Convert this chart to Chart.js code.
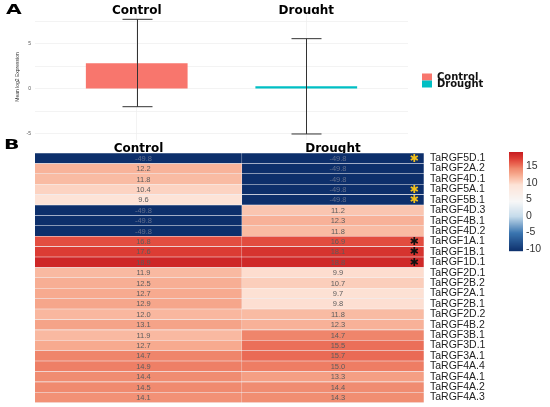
<!DOCTYPE html>
<html>
<head>
<meta charset="utf-8">
<script src="https://cdn.jsdelivr.net/npm/chart.js@4.4.0/dist/chart.umd.min.js"></script>
<style>
  body { margin: 0; background: #fff; }
  #wrap { position: relative; width: 550px; height: 407px; overflow: hidden; }
  canvas { position: absolute; left: 0; }
  .tag { position: absolute; font: bold 14px "DejaVu Sans", sans-serif; color: #000;
         transform: scaleX(1.45); transform-origin: left top; line-height: 14px; }
</style>
</head>
<body>
<div id="wrap">
  <canvas id="barA" width="550" height="147" style="top:0"></canvas>
  <canvas id="heatB" width="550" height="278" style="top:137px"></canvas>
  <div class="tag" style="left:6px;top:2px">A</div>
  <div class="tag" style="left:4px;top:137px">B</div>
</div>
<script>
// panel A: mean log2 expression per condition
const groups = ["Control", "Drought"];
const meanExpr = [2.85, 0.3];
const errLow = [-1.97, -5.0];
const errHigh = [7.74, 5.59];
const groupColors = ["#F8766D", "#00BFC4"];
const yTicksA = [-5, -2.5, 0, 2.5, 5, 7.5];

// panel B: heatmap
const genes = ["TaRGF5D.1", "TaRGF2A.2", "TaRGF4D.1", "TaRGF5A.1", "TaRGF5B.1", "TaRGF4D.3",
  "TaRGF4B.1", "TaRGF4D.2", "TaRGF1A.1", "TaRGF1B.1", "TaRGF1D.1", "TaRGF2D.1", "TaRGF2B.2",
  "TaRGF2A.1", "TaRGF2B.1", "TaRGF2D.2", "TaRGF4B.2", "TaRGF3B.1", "TaRGF3D.1", "TaRGF3A.1",
  "TaRGF4A.4", "TaRGF4A.1", "TaRGF4A.2", "TaRGF4A.3"];
const controlVals = [-49.8, 12.2, 11.8, 10.4, 9.6, -49.8, -49.8, -49.8, 16.8, 17.6, 18.9, 11.9,
  12.5, 12.7, 12.9, 12.0, 13.1, 11.9, 12.7, 14.7, 14.9, 14.4, 14.5, 14.1];
const droughtVals = [-49.8, -49.8, -49.8, -49.8, -49.8, 11.2, 12.3, 11.8, 16.9, 18.1, 18.8, 9.9,
  10.7, 9.7, 9.8, 11.8, 12.3, 14.7, 15.5, 15.7, 15.0, 13.3, 14.4, 14.3];
const sigMarks = ["y", "", "", "y", "y", "", "", "", "k", "k", "k", "", "", "", "", "", "", "", "",
  "", "", "", "", ""];
const cbTicks = [15, 10, 5, 0, -5, -10];

const starColors = { y: "#f2c01c", k: "#111111" };
const split = 0.532; // control column is a bit wider than drought
const cbMin = -10.6, cbMax = 19.4;

Chart.defaults.font.family = '"Liberation Sans", Arial, sans-serif';
Chart.defaults.animation = false;

// colour ramp navy -> white -> red
const heatStops = [
  [-10.6, [13, 47, 107]],
  [-5, [58, 117, 176]],
  [0, [197, 219, 235]],
  [4.5, [247, 247, 247]],
  [9.6, [253, 227, 215]],
  [10.4, [252, 211, 194]],
  [11.9, [249, 185, 161]],
  [12.9, [246, 166, 139]],
  [14.5, [240, 138, 111]],
  [15.7, [234, 106, 85]],
  [16.9, [226, 76, 63]],
  [17.6, [220, 60, 52]],
  [19.4, [200, 30, 34]]
];
function heatColor(v) {
  v = Math.max(cbMin, Math.min(cbMax, v));
  for (let i = 1; i < heatStops.length; i++) {
    const [v1, c1] = heatStops[i];
    const [v0, c0] = heatStops[i - 1];
    if (v <= v1) {
      const t = (v - v0) / (v1 - v0);
      const c = c0.map((a, k) => Math.round(a + (c1[k] - a) * t));
      return "rgb(" + c.join(",") + ")";
    }
  }
  return "rgb(200,30,34)";
}

// ---------- panel A ----------
const errorBars = {
  id: "errorBars",
  afterDatasetsDraw(chart) {
    const { ctx, scales: { x, y } } = chart;
    ctx.save();
    ctx.strokeStyle = "#333";
    ctx.lineWidth = 1;
    groups.forEach((g, i) => {
      const px = Math.round(x.getPixelForValue(i + 1)) + 0.5;
      const top = y.getPixelForValue(errHigh[i]);
      const bot = y.getPixelForValue(errLow[i]);
      ctx.beginPath();
      ctx.moveTo(px, top); ctx.lineTo(px, bot);
      ctx.moveTo(px - 15, top); ctx.lineTo(px + 15, top);
      ctx.moveTo(px - 15, bot); ctx.lineTo(px + 15, bot);
      ctx.stroke();
    });
    ctx.restore();
  }
};

const legendA = {
  id: "legendA",
  afterDraw(chart) {
    const ctx = chart.ctx;
    const x0 = chart.chartArea.right + 14;
    ctx.save();
    ctx.font = 'bold 10px "DejaVu Sans"';
    ctx.textBaseline = "middle";
    groups.forEach((g, i) => {
      const yc = 77 + i * 7;
      ctx.fillStyle = groupColors[i];
      ctx.fillRect(x0, yc - 3.5, 10, 7);
      ctx.fillStyle = "#111";
      ctx.fillText(g, x0 + 15, yc);
    });
    ctx.restore();
  }
};

new Chart(document.getElementById("barA"), {
  type: "bar",
  data: {
    datasets: [{
      data: groups.map((g, i) => ({ x: i + 1, y: meanExpr[i] })),
      backgroundColor: groupColors,
      barPercentage: 0.6,
      categoryPercentage: 1
    }]
  },
  options: {
    responsive: false,
    layout: { padding: { left: 0, right: 142, top: 0, bottom: 0 } },
    plugins: { legend: { display: false }, tooltip: { enabled: false } },
    scales: {
      x: {
        type: "linear",
        position: "top",
        offset: false,
        min: 0.4,
        max: 2.6,
        afterBuildTicks: (s) => { s.ticks = groups.map((g, i) => ({ value: i + 1 })); },
        afterFit: (s) => { s.height = 14; },
        ticks: {
          autoSkip: false, maxRotation: 0, padding: -4, color: "#000",
          font: { family: '"DejaVu Sans"', size: 12, weight: "bold" },
          callback: (v) => groups[Math.round(v) - 1]
        },
        grid: { offset: false, color: "#eeeeee", lineWidth: 0.7, drawTicks: false },
        border: { display: false }
      },
      y: {
        min: -5.67,
        max: 8.33,
        afterBuildTicks: (s) => { s.ticks = yTicksA.map((v) => ({ value: v })); },
        afterFit: (s) => { s.width = 35; },
        ticks: {
          padding: 4, color: "#555", font: { size: 5 },
          callback: (v) => (v % 5 === 0 ? String(v) : "")
        },
        grid: { color: "#eeeeee", lineWidth: 0.7, drawTicks: false },
        border: { display: false },
        title: {
          display: true, text: "Mean log2 Expression", color: "#333",
          font: { size: 5 }, padding: { top: 15, bottom: 0 }
        }
      }
    }
  },
  plugins: [errorBars, legendA]
});

// ---------- panel B ----------
const heatLabels = {
  id: "heatLabels",
  afterDatasetsDraw(chart) {
    const ctx = chart.ctx;
    ctx.save();
    ctx.textAlign = "center";
    ctx.textBaseline = "middle";
    ctx.font = '7.5px "Liberation Sans"';
    chart.data.datasets.forEach((ds, di) => {
      chart.getDatasetMeta(di).data.forEach((bar, i) => {
        ctx.fillStyle = ds.values[i] < 0 ? "rgba(120,128,150,0.8)" : "#5c5c5c";
        ctx.fillText(ds.values[i].toFixed(1), (bar.x + bar.base) / 2 + 5, bar.y + 0.5);
      });
    });
    const meta = chart.getDatasetMeta(1);
    ctx.font = 'bold 11px "DejaVu Sans"';
    sigMarks.forEach((m, i) => {
      if (!m) return;
      const bar = meta.data[i];
      ctx.fillStyle = starColors[m];
      ctx.fillText("\u2731", bar.x - 10, bar.y + 0.5);
    });
    ctx.restore();
  }
};

const colorBar = {
  id: "colorBar",
  afterDraw(chart) {
    const ctx = chart.ctx;
    const left = 509, w = 14, top = chart.chartArea.top - 1, pxPerUnit = 3.3;
    const yOf = (v) => top + (cbMax - v) * pxPerUnit;
    ctx.save();
    for (let py = 0; py < (cbMax - cbMin) * pxPerUnit; py++) {
      ctx.fillStyle = heatColor(cbMax - py / pxPerUnit);
      ctx.fillRect(left, top + py, w, 1.2);
    }
    ctx.font = '10.5px "Liberation Sans"';
    ctx.fillStyle = "#333";
    ctx.textBaseline = "middle";
    cbTicks.forEach((t) => ctx.fillText(String(t), left + 17, yOf(t)));
    ctx.restore();
  }
};

const cellStyle = (vals) => ({
  grouped: false,
  barPercentage: 1,
  categoryPercentage: 1,
  borderWidth: 0.6,
  borderColor: "rgba(225,225,235,0.35)",
  backgroundColor: vals.map(heatColor)
});

new Chart(document.getElementById("heatB"), {
  type: "bar",
  data: {
    labels: genes,
    datasets: [
      { label: groups[0], data: genes.map(() => [0, split]), values: controlVals, ...cellStyle(controlVals) },
      { label: groups[1], data: genes.map(() => [split, 1]), values: droughtVals, ...cellStyle(droughtVals) }
    ]
  },
  options: {
    indexAxis: "y",
    responsive: false,
    layout: { padding: { left: 35, right: 0, top: 0, bottom: 0 } },
    plugins: { legend: { display: false }, tooltip: { enabled: false } },
    scales: {
      x: {
        type: "linear",
        position: "top",
        min: 0,
        max: 1,
        afterBuildTicks: (s) => { s.ticks = [{ value: split / 2 }, { value: (1 + split) / 2 }]; },
        afterFit: (s) => { s.height = 16; },
        ticks: {
          autoSkip: false, maxRotation: 0, padding: -3, color: "#000",
          font: { family: '"DejaVu Sans"', size: 12, weight: "bold" },
          callback: (v, i) => groups[i]
        },
        grid: { display: false, drawTicks: false },
        border: { display: false }
      },
      y: {
        position: "right",
        afterFit: (s) => { s.width = 126; },
        ticks: { padding: 6, color: "#222", font: { size: 10.5 }, autoSkip: false },
        grid: { display: false, drawTicks: false },
        border: { display: false }
      }
    }
  },
  plugins: [heatLabels, colorBar]
});
</script>
</body>
</html>
